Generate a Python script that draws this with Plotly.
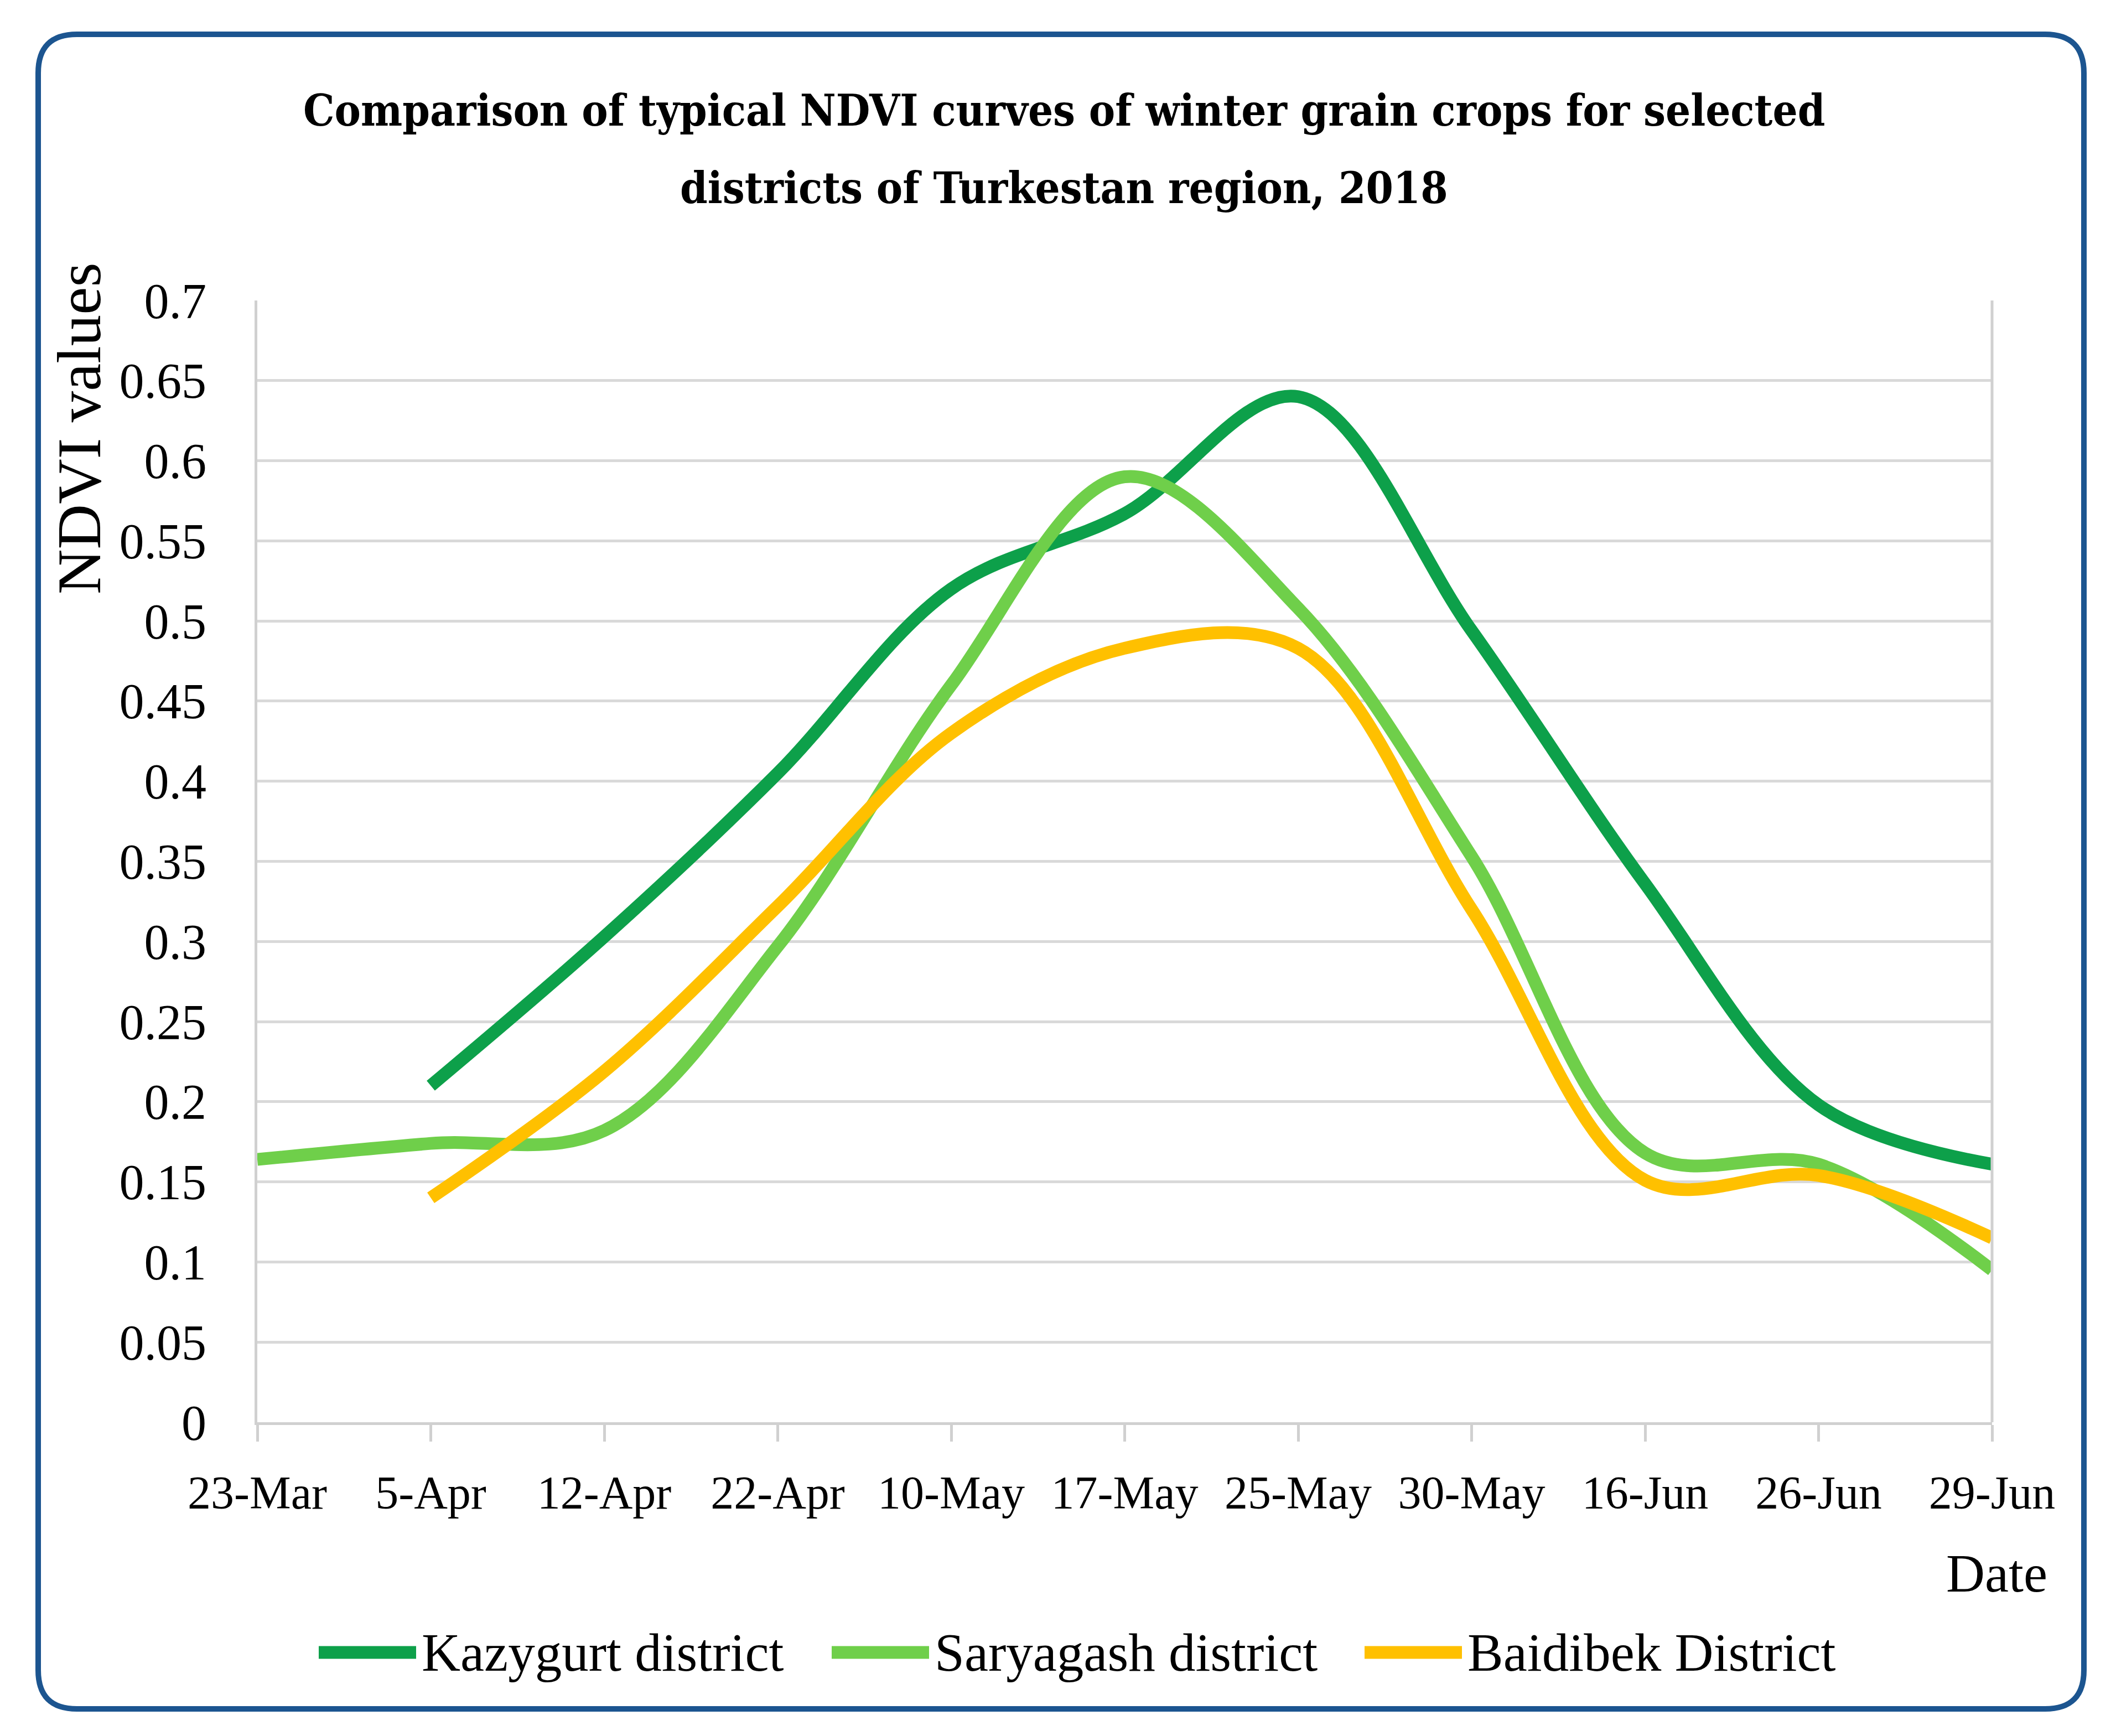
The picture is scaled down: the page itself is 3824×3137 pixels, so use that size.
import plotly.graph_objects as go

# Datos (NDVI por fecha)
fechas = ['23-Mar', '5-Apr', '12-Apr', '22-Apr', '10-May', '17-May',
          '25-May', '30-May', '16-Jun', '26-Jun', '29-Jun']
kazygurt = [None, 0.21, 0.303, 0.405, 0.52, 0.567, 0.64, 0.494, 0.336, 0.198, 0.161]
saryagash = [0.164, 0.174, 0.182, 0.297, 0.46, 0.59, 0.508, 0.353, 0.168, 0.161, 0.095]
baidibek = [None, 0.14, 0.219, 0.322, 0.43, 0.483, 0.483, 0.32, 0.151, 0.154, 0.115]
y_ticks = [0, 0.05, 0.1, 0.15, 0.2, 0.25, 0.3, 0.35, 0.4, 0.45, 0.5, 0.55, 0.6, 0.65, 0.7]

nombres = ['Kazygurt district', 'Saryagash district', 'Baidibek District']
colores = ['#0DA04A', '#6FCF4A', '#FFC000']
series = [kazygurt, saryagash, baidibek]

W, H = 3824, 3137
L, R, T, B = 457, 3592, 535, 2562


def px(x):
    return (x - L) / (R - L)


def py(y):
    return (B - y) / (B - T)


fig = go.Figure()
x_idx = list(range(len(fechas)))
for nombre, color, vals in zip(nombres, colores, series):
    fig.add_trace(go.Scatter(x=x_idx, y=vals, name=nombre, mode='lines', showlegend=False,
                             line=dict(color=color, width=23, shape='spline', smoothing=1.0)))

serif = 'Liberation Serif'

fig.update_layout(
    width=W, height=H,
    margin=dict(l=L, r=W - R, t=T, b=H - B),
    paper_bgcolor='white', plot_bgcolor='white',
    font=dict(family=serif, color='black', size=88),
    showlegend=False,
    xaxis=dict(range=[0, len(fechas) - 1], tickvals=x_idx, ticktext=fechas,
               showgrid=False, showline=True, linecolor='#D0D0D0', linewidth=5,
               mirror=False, ticks='outside', ticklen=30, tickwidth=5, tickcolor='#D0D0D0',
               tickfont=dict(family=serif, size=84), ticklabelstandoff=20, zeroline=False),
    yaxis=dict(range=[0, 0.7], tickvals=y_ticks, ticktext=[f'{v:g}' for v in y_ticks],
               showgrid=True, gridcolor='#D9D9D9', gridwidth=5,
               showline=True, linecolor='#D0D0D0', linewidth=5, zeroline=False,
               ticks='', tickfont=dict(family=serif, size=90), ticklabelstandoff=69),
)

# borde derecho del area de grafico
fig.add_shape(type='line', xref='paper', yref='paper', x0=1, x1=1, y0=0, y1=1,
              line=dict(color='#D0D0D0', width=5))

# marco azul redondeado
x0, x1, y0, y1, r = px(61), px(3758), py(54), py(3080), 70
rx, ry = r / (R - L), r / (B - T)
path = (f'M {x0 + rx},{y0} L {x1 - rx},{y0} Q {x1},{y0} {x1},{y0 - ry} '
        f'L {x1},{y1 + ry} Q {x1},{y1} {x1 - rx},{y1} '
        f'L {x0 + rx},{y1} Q {x0},{y1} {x0},{y1 + ry} '
        f'L {x0},{y0 - ry} Q {x0},{y0} {x0 + rx},{y0} Z')
fig.add_shape(type='path', path=path, xref='paper', yref='paper',
              line=dict(color='#1C5590', width=10), layer='below')

titulo = ['Comparison of typical NDVI curves of winter grain crops for selected',
          'districts of Turkestan region, 2018']
for texto, yy in zip(titulo, [192, 331]):
    fig.add_annotation(text=f'<b>{texto}</b>', xref='paper', yref='paper',
                       x=px(1915), y=py(yy), showarrow=False, xanchor='center', yanchor='middle',
                       font=dict(family='DejaVu Serif Condensed', size=79, color='black'))

fig.add_annotation(text='NDVI values', xref='paper', yref='paper', x=px(134), y=py(767),
                   showarrow=False, textangle=-90, xanchor='center', yanchor='middle',
                   font=dict(family=serif, size=113))
fig.add_annotation(text='Date', xref='paper', yref='paper', x=px(3600), y=py(2835),
                   showarrow=False, xanchor='center', yanchor='middle',
                   font=dict(family=serif, size=97))

# leyenda dibujada a mano (muestras de linea gruesas)
leyenda_x = [568, 1495, 2458]
for nombre, color, lx in zip(nombres, colores, leyenda_x):
    fig.add_shape(type='line', xref='paper', yref='paper', x0=px(lx), x1=px(lx + 176),
                  y0=py(2978), y1=py(2978), line=dict(color=color, width=23))
    fig.add_annotation(text=nombre, xref='paper', yref='paper', x=px(lx + 184), y=py(2978),
                       showarrow=False, xanchor='left', yanchor='middle',
                       font=dict(family=serif, size=97))

fig.write_html('out.html')
